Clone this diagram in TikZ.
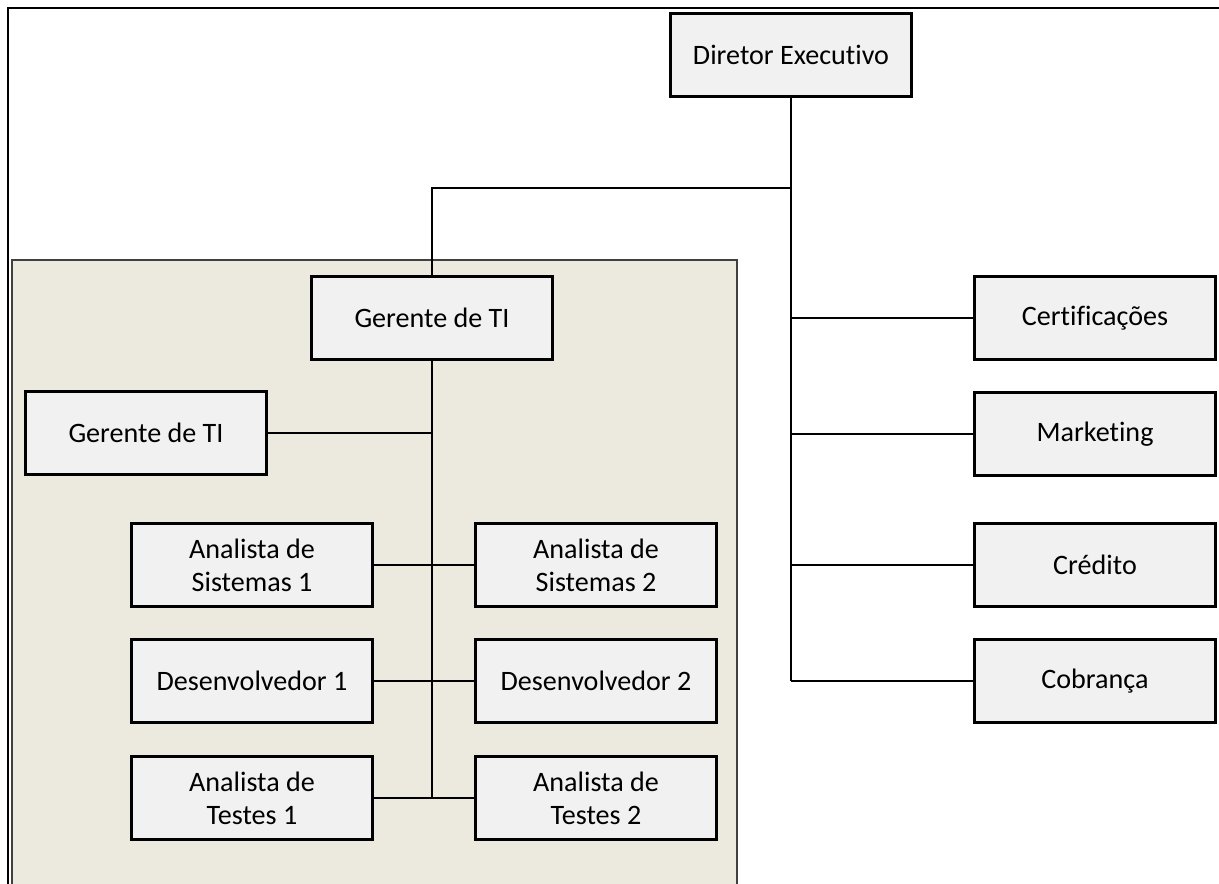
\documentclass[tikz,border=0pt]{standalone}
\usepackage{fontspec}
\setmainfont{Carlito}[Ligatures=NoCommon]

\definecolor{painel}{HTML}{ECE9DF}
\definecolor{caixa}{HTML}{F1F1F1}

\tikzset{
  cargo/.style={draw, line width=1.6pt, fill=caixa, inner sep=0pt,
    minimum width=4.82cm, minimum height=1.66cm, align=center,
    font=\fontsize{16}{18.8}\selectfont},
  liga/.style={line width=0.9pt}
}

\begin{document}
\begin{tikzpicture}[x=0.02cm, y=-0.02cm]
        \useasboundingbox (0,0) rectangle (1219,884);

        % moldura e area de TI
        \draw[line width=1.2pt] (8,884) -- (8,8) -- (1219,8);
        \draw[fill=painel, draw=black!75, line width=0.9pt] (12,890) -- (12,260) -- (737,260) -- (737,890);

        \node[cargo] (dir) at (791,55) {Diretor Executivo};
        \node[cargo] (ger) at (432,318) {Gerente de TI};
        \node[cargo] (gti) at (146,433) {Gerente de TI};
        \node[cargo] (as1) at (252,565) {Analista de\\Sistemas 1};
        \node[cargo] (as2) at (596,565) {Analista de\\Sistemas 2};
        \node[cargo] (dv1) at (252,681) {Desenvolvedor 1};
        \node[cargo] (dv2) at (596,681) {Desenvolvedor 2};
        \node[cargo] (at1) at (252,798) {Analista de\\Testes 1};
        \node[cargo] (at2) at (596,798) {Analista de\\Testes 2};

        \node[cargo] (cert) at (1095,318) {Certificações};
        \node[cargo] (mkt) at (1095,434) {Marketing};
        \node[cargo] (cred) at (1095,565) {Crédito};
        \node[cargo] (cob) at (1095,681) {Cobrança};

        % ligacoes do diretor
        \coordinate (dobra) at (791,188);
        \draw[liga] (dir.south) -- (dobra) -| (ger.north);
        \draw[liga] (dir.south) -- (dir.south |- cob.west);
        \foreach \n in {cert, mkt, cred, cob}
            \draw[liga] (dir.south |- \n.west) -- (\n.west);

        % ligacoes da gerencia
        \draw[liga] (ger.south) -- (ger.south |- at1.east);
        \draw[liga] (gti.east) -- (ger.south |- gti.east);
        \draw[liga] (as1.east) -- (as2.west);
        \draw[liga] (dv1.east) -- (dv2.west);
        \draw[liga] (at1.east) -- (at2.west);

\end{tikzpicture}
\end{document}
